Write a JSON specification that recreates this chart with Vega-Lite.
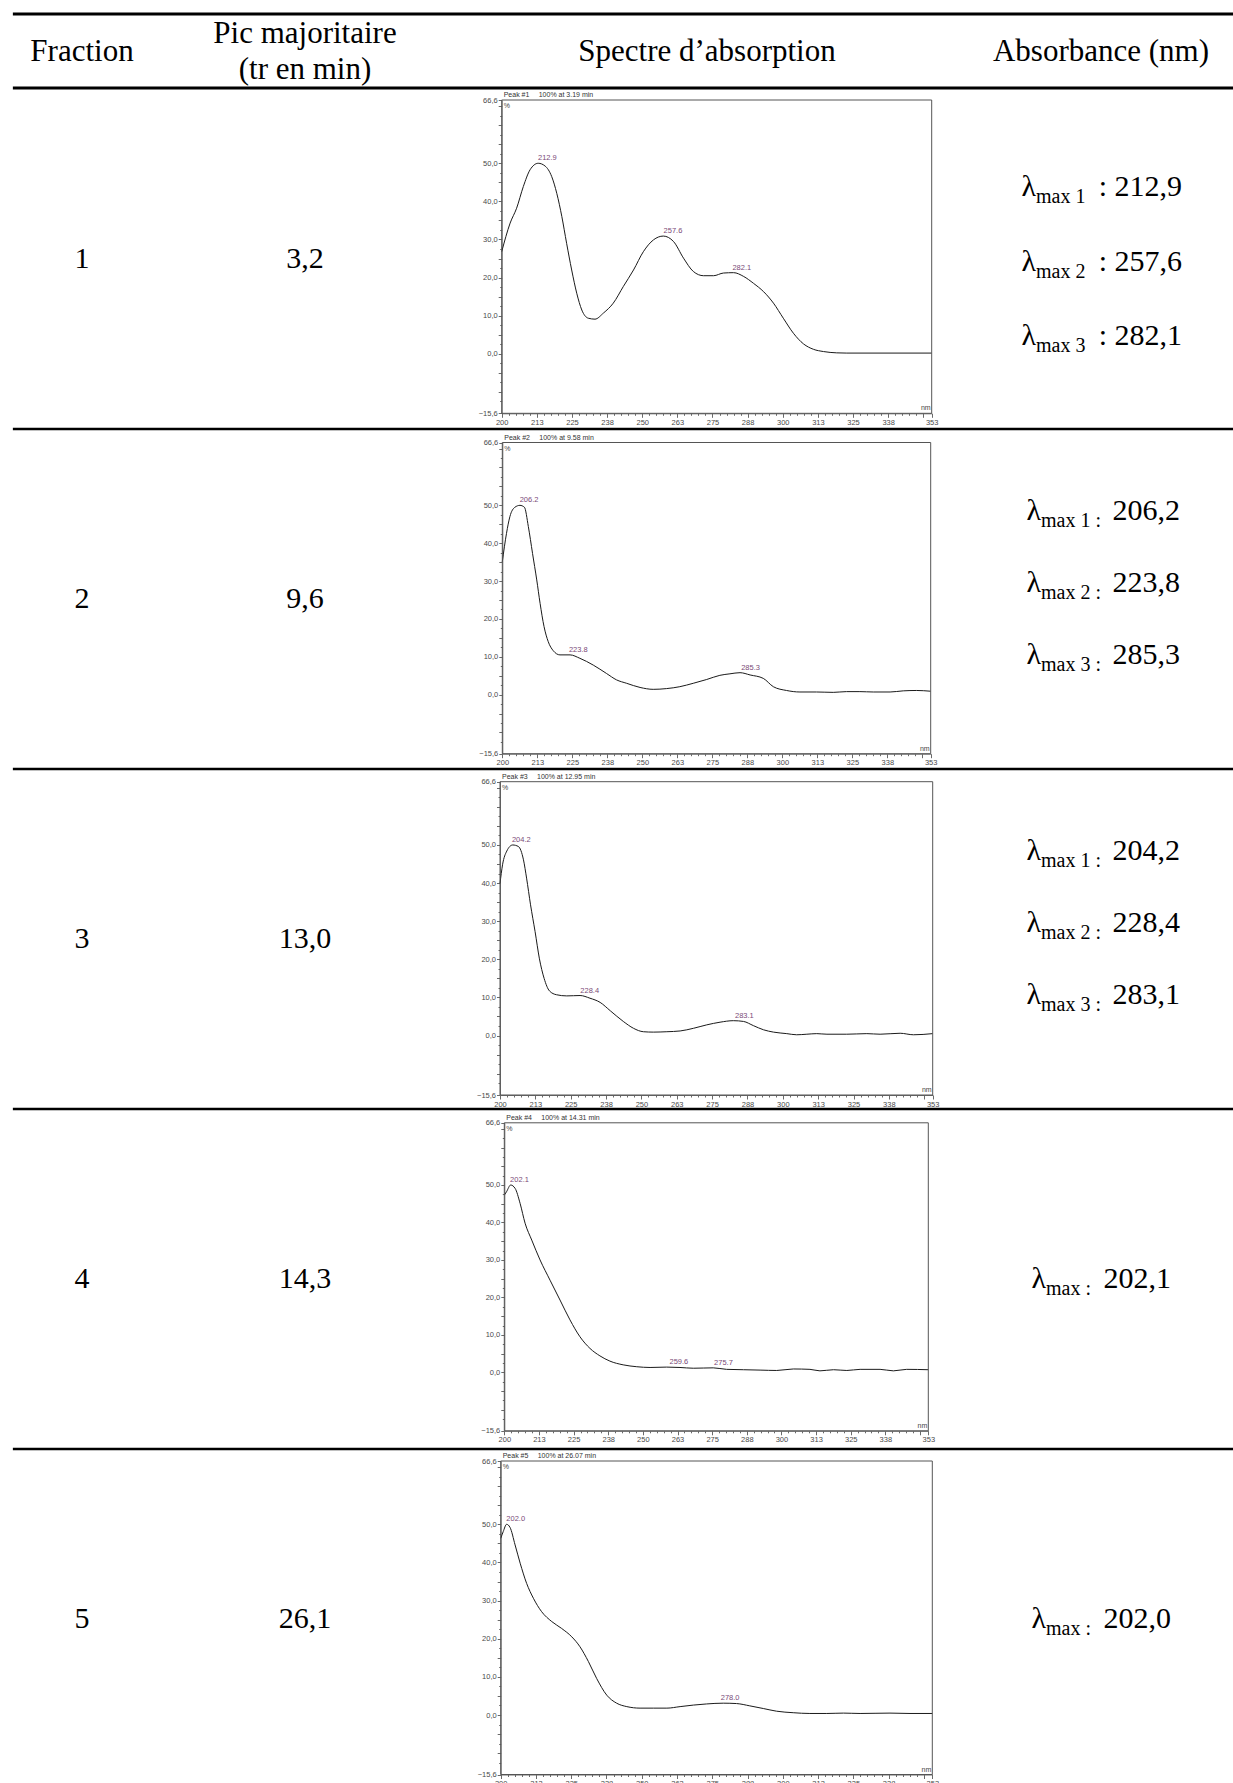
{
  "$schema": "https://vega.github.io/schema/vega-lite/v6.json",
  "width": 1233,
  "height": 1783,
  "autosize": "none",
  "padding": 0,
  "background": "white",
  "config": {
    "view": {"stroke": null},
    "axis": {"domainColor": "#6a6a6a", "tickColor": "#6a6a6a", "labelColor": "#4a4a4a", "labelFont": "Liberation Sans", "labelFontSize": 7.5, "labelPadding": 1, "grid": false, "labelFlush": false, "labelOverlap": false, "domainWidth": 1, "tickWidth": 1, "tickSize": 2.5, "tickCount": 200}
  },
  "datasets": {
    "lines": [{"r": -0.5}, {"r": 0.5}, {"r": 1.5}, {"r": 2.5}, {"r": 3.5}, {"r": 4.5}],
    "header": [
      {"c": 1, "t": "Fraction"},
      {"c": 2, "t": "Pic majoritaire\n(tr en min)"},
      {"c": 3, "t": "Spectre d’absorption"},
      {"c": 4, "t": "Absorbance (nm)"}
    ],
    "rows": [
      {"f": 1, "tr": "3,2", "sub": "max 1\nmax 2\nmax 3", "val": ": 212,9\n: 257,6\n: 282,1"},
      {"f": 2, "tr": "9,6", "sub": "max 1 :\nmax 2 :\nmax 3 :", "val": "206,2\n223,8\n285,3"},
      {"f": 3, "tr": "13,0", "sub": "max 1 :\nmax 2 :\nmax 3 :", "val": "204,2\n228,4\n283,1"},
      {"f": 4, "tr": "14,3", "sub": "max :", "val": "202,1"},
      {"f": 5, "tr": "26,1", "sub": "max :", "val": "202,0"}
    ],
    "panels": [
      {"f": 1, "peak": "Peak #1", "at": "100% at 3.19 min"},
      {"f": 2, "peak": "Peak #2", "at": "100% at 9.58 min"},
      {"f": 3, "peak": "Peak #3", "at": "100% at 12.95 min"},
      {"f": 4, "peak": "Peak #4", "at": "100% at 14.31 min"},
      {"f": 5, "peak": "Peak #5", "at": "100% at 26.07 min"}
    ],
    "peaks": [
      {"f": 1, "nm": 212.9, "v": 50, "t": "212.9"}, {"f": 1, "nm": 257.6, "v": 30.9, "t": "257.6"}, {"f": 1, "nm": 282.1, "v": 21.3, "t": "282.1"},
      {"f": 2, "nm": 206.2, "v": 50, "t": "206.2"}, {"f": 2, "nm": 223.8, "v": 10.5, "t": "223.8"}, {"f": 2, "nm": 285.3, "v": 5.8, "t": "285.3"},
      {"f": 3, "nm": 204.2, "v": 50, "t": "204.2"}, {"f": 3, "nm": 228.4, "v": 10.5, "t": "228.4"}, {"f": 3, "nm": 283.1, "v": 3.9, "t": "283.1"},
      {"f": 4, "nm": 202.1, "v": 50, "t": "202.1"}, {"f": 4, "nm": 259.6, "v": 1.4, "t": "259.6"}, {"f": 4, "nm": 275.7, "v": 1.2, "t": "275.7"},
      {"f": 5, "nm": 202.0, "v": 50, "t": "202.0"}, {"f": 5, "nm": 278.0, "v": 3.1, "t": "278.0"}
    ],
    "curves": [
      {"f":1,"nm":200,"v":26.8},{"f":1,"nm":203,"v":34.3},{"f":1,"nm":205.3,"v":38.2},{"f":1,"nm":207.7,"v":43.9},{"f":1,"nm":210.1,"v":48.3},{"f":1,"nm":213,"v":50.0},{"f":1,"nm":215.4,"v":49.3},{"f":1,"nm":217.8,"v":46.5},{"f":1,"nm":219.6,"v":42.1},{"f":1,"nm":221.4,"v":36.0},{"f":1,"nm":223.1,"v":29.0},{"f":1,"nm":224.9,"v":22.0},{"f":1,"nm":226.7,"v":15.9},{"f":1,"nm":228.5,"v":11.5},{"f":1,"nm":230.8,"v":9.35},{"f":1,"nm":233.2,"v":9.1},{"f":1,"nm":236.2,"v":10.7},{"f":1,"nm":239.7,"v":13.3},{"f":1,"nm":243.3,"v":17.7},{"f":1,"nm":246.9,"v":22.0},{"f":1,"nm":250.4,"v":26.8},{"f":1,"nm":254,"v":29.9},{"f":1,"nm":257.5,"v":30.9},{"f":1,"nm":261.1,"v":29.5},{"f":1,"nm":264.7,"v":25.1},{"f":1,"nm":268.2,"v":21.6},{"f":1,"nm":271.8,"v":20.5},{"f":1,"nm":275.4,"v":20.5},{"f":1,"nm":278.9,"v":21.2},{"f":1,"nm":282.5,"v":21.3},{"f":1,"nm":286.1,"v":20.3},{"f":1,"nm":289.6,"v":18.5},{"f":1,"nm":293.2,"v":16.3},{"f":1,"nm":296.7,"v":13.3},{"f":1,"nm":300.2,"v":9.35},{"f":1,"nm":303.8,"v":5.4},{"f":1,"nm":307.4,"v":2.6},{"f":1,"nm":310.9,"v":1.2},{"f":1,"nm":314.5,"v":0.6},{"f":1,"nm":319.2,"v":0.26},{"f":1,"nm":322.8,"v":0.2},{"f":1,"nm":353,"v":0.2},
      {"f":2,"nm":200,"v":35.1},{"f":2,"nm":201.5,"v":42.6},{"f":2,"nm":202.7,"v":47.0},{"f":2,"nm":204.5,"v":49.5},{"f":2,"nm":206.3,"v":50.0},{"f":2,"nm":207.9,"v":49.5},{"f":2,"nm":209.3,"v":44.4},{"f":2,"nm":210.8,"v":37.3},{"f":2,"nm":212.3,"v":30.3},{"f":2,"nm":213.5,"v":24.1},{"f":2,"nm":214.9,"v":18.0},{"f":2,"nm":216.4,"v":14.0},{"f":2,"nm":218.2,"v":11.6},{"f":2,"nm":220.6,"v":10.5},{"f":2,"nm":224.2,"v":10.5},{"f":2,"nm":227.7,"v":9.6},{"f":2,"nm":232.5,"v":7.8},{"f":2,"nm":237.2,"v":5.6},{"f":2,"nm":240.8,"v":3.9},{"f":2,"nm":244.4,"v":3.0},{"f":2,"nm":249.2,"v":1.9},{"f":2,"nm":253.9,"v":1.4},{"f":2,"nm":258.7,"v":1.6},{"f":2,"nm":263.4,"v":2.1},{"f":2,"nm":268.2,"v":3.0},{"f":2,"nm":273,"v":4.0},{"f":2,"nm":277.7,"v":5.1},{"f":2,"nm":281.3,"v":5.5},{"f":2,"nm":284.9,"v":5.8},{"f":2,"nm":288.5,"v":5.2},{"f":2,"nm":293.2,"v":4.3},{"f":2,"nm":296.8,"v":2.1},{"f":2,"nm":301.5,"v":1.1},{"f":2,"nm":306.3,"v":0.7},{"f":2,"nm":312.2,"v":0.7},{"f":2,"nm":318.2,"v":0.6},{"f":2,"nm":322.9,"v":0.8},{"f":2,"nm":327.7,"v":0.8},{"f":2,"nm":332.5,"v":0.7},{"f":2,"nm":338.5,"v":0.7},{"f":2,"nm":343.2,"v":1.0},{"f":2,"nm":348,"v":1.1},{"f":2,"nm":353,"v":0.9},
      {"f":3,"nm":200,"v":39.9},{"f":3,"nm":200.9,"v":44.8},{"f":3,"nm":202.4,"v":48.4},{"f":3,"nm":204.5,"v":50.0},{"f":3,"nm":206.5,"v":49.6},{"f":3,"nm":208.3,"v":46.1},{"f":3,"nm":209.4,"v":41.3},{"f":3,"nm":210.8,"v":34.3},{"f":3,"nm":212.4,"v":27.3},{"f":3,"nm":213.9,"v":20.3},{"f":3,"nm":215.6,"v":15.0},{"f":3,"nm":217.5,"v":11.7},{"f":3,"nm":220,"v":10.7},{"f":3,"nm":223.6,"v":10.4},{"f":3,"nm":228.3,"v":10.5},{"f":3,"nm":231.8,"v":9.8},{"f":3,"nm":235.4,"v":8.7},{"f":3,"nm":239,"v":6.5},{"f":3,"nm":243.6,"v":3.7},{"f":3,"nm":247.2,"v":1.9},{"f":3,"nm":250.7,"v":1.0},{"f":3,"nm":254.2,"v":0.9},{"f":3,"nm":259,"v":1.0},{"f":3,"nm":263.7,"v":1.2},{"f":3,"nm":268.4,"v":1.9},{"f":3,"nm":273.1,"v":2.8},{"f":3,"nm":277.8,"v":3.5},{"f":3,"nm":282.5,"v":3.9},{"f":3,"nm":286.1,"v":3.7},{"f":3,"nm":289.6,"v":2.6},{"f":3,"nm":293.2,"v":1.5},{"f":3,"nm":296.7,"v":0.9},{"f":3,"nm":301.4,"v":0.5},{"f":3,"nm":304.9,"v":0.2},{"f":3,"nm":308.5,"v":0.35},{"f":3,"nm":312,"v":0.5},{"f":3,"nm":315.6,"v":0.35},{"f":3,"nm":322.6,"v":0.35},{"f":3,"nm":329.7,"v":0.5},{"f":3,"nm":334.4,"v":0.35},{"f":3,"nm":341.5,"v":0.6},{"f":3,"nm":346.2,"v":0.2},{"f":3,"nm":353,"v":0.5},
      {"f":4,"nm":200,"v":47.3},{"f":4,"nm":200.8,"v":48.2},{"f":4,"nm":202.3,"v":50.0},{"f":4,"nm":203.9,"v":49.1},{"f":4,"nm":205.7,"v":45.1},{"f":4,"nm":207.5,"v":39.8},{"f":4,"nm":209.9,"v":35.3},{"f":4,"nm":212.9,"v":30.0},{"f":4,"nm":216.5,"v":24.6},{"f":4,"nm":220.1,"v":19.3},{"f":4,"nm":223.7,"v":14.0},{"f":4,"nm":227.3,"v":9.5},{"f":4,"nm":230.9,"v":6.4},{"f":4,"nm":234.5,"v":4.4},{"f":4,"nm":238.1,"v":3.0},{"f":4,"nm":242.9,"v":2.0},{"f":4,"nm":247.8,"v":1.5},{"f":4,"nm":252.6,"v":1.3},{"f":4,"nm":258.6,"v":1.4},{"f":4,"nm":263.4,"v":1.3},{"f":4,"nm":268.2,"v":1.1},{"f":4,"nm":275.4,"v":1.2},{"f":4,"nm":280.2,"v":0.8},{"f":4,"nm":286.3,"v":0.7},{"f":4,"nm":292.3,"v":0.6},{"f":4,"nm":298.3,"v":0.5},{"f":4,"nm":304.3,"v":0.9},{"f":4,"nm":310.3,"v":0.8},{"f":4,"nm":313.9,"v":0.4},{"f":4,"nm":318.8,"v":0.7},{"f":4,"nm":323.6,"v":0.5},{"f":4,"nm":328.4,"v":0.8},{"f":4,"nm":335.6,"v":0.8},{"f":4,"nm":340.4,"v":0.4},{"f":4,"nm":345.2,"v":0.8},{"f":4,"nm":353,"v":0.7},
      {"f":5,"nm":200,"v":46.3},{"f":5,"nm":200.9,"v":48.1},{"f":5,"nm":202.1,"v":50.0},{"f":5,"nm":203.3,"v":49.2},{"f":5,"nm":205.1,"v":44.6},{"f":5,"nm":206.9,"v":39.8},{"f":5,"nm":209.2,"v":34.5},{"f":5,"nm":211.6,"v":30.6},{"f":5,"nm":214.5,"v":27.1},{"f":5,"nm":218.1,"v":24.5},{"f":5,"nm":221.6,"v":22.7},{"f":5,"nm":225.2,"v":20.5},{"f":5,"nm":228.1,"v":17.9},{"f":5,"nm":231.1,"v":14.0},{"f":5,"nm":234,"v":9.6},{"f":5,"nm":237.6,"v":5.2},{"f":5,"nm":241.1,"v":3.1},{"f":5,"nm":244.7,"v":2.2},{"f":5,"nm":249.4,"v":1.8},{"f":5,"nm":254.1,"v":1.8},{"f":5,"nm":258.9,"v":1.8},{"f":5,"nm":263.6,"v":2.2},{"f":5,"nm":268.3,"v":2.6},{"f":5,"nm":273,"v":2.9},{"f":5,"nm":278.9,"v":3.1},{"f":5,"nm":283.6,"v":3.0},{"f":5,"nm":288.3,"v":2.4},{"f":5,"nm":293.1,"v":1.7},{"f":5,"nm":297.8,"v":1.0},{"f":5,"nm":303.7,"v":0.6},{"f":5,"nm":309.6,"v":0.4},{"f":5,"nm":315.6,"v":0.4},{"f":5,"nm":321.5,"v":0.5},{"f":5,"nm":327.4,"v":0.4},{"f":5,"nm":338,"v":0.5},{"f":5,"nm":345.1,"v":0.4},{"f":5,"nm":353,"v":0.4}
    ]
  },
  "resolve": {"scale": {"x": "independent", "y": "independent"}, "axis": {"x": "independent", "y": "independent"}},
  "layer": [
    {
      "layer": [
        {"data": {"name": "lines"}, "mark": {"type": "rule", "color": "black"},
         "encoding": {
           "y": {"field": "r", "type": "quantitative", "scale": {"domain": [-0.5, 0, 0.5, 1, 5], "range": [14, 52, 88, 259, 1619], "nice": false, "zero": false}, "axis": null},
           "x": {"datum": 0.69, "type": "quantitative", "scale": {"domain": [1, 2, 3, 4], "range": [82, 305, 707, 1101], "nice": false, "zero": false}, "axis": null},
           "x2": {"datum": 4.34},
           "strokeWidth": {"condition": {"test": "datum.r < 1", "value": 3.2}, "value": 2.6}}},
        {"data": {"name": "header"}, "transform": [{"filter": "datum.c != 2"}], "mark": {"type": "text", "font": "Liberation Serif", "fontSize": 31, "align": "center", "baseline": "middle", "color": "black"},
         "encoding": {
           "x": {"field": "c", "type": "quantitative", "scale": {"domain": [1, 2, 3, 4], "range": [82, 305, 707, 1101], "nice": false, "zero": false}, "axis": null},
           "y": {"datum": 0, "type": "quantitative", "scale": {"domain": [-0.5, 0, 0.5, 1, 5], "range": [14, 52, 88, 259, 1619], "nice": false, "zero": false}, "axis": null},
           "text": {"field": "t", "type": "nominal"}}},
        {"data": {"name": "header"}, "transform": [{"filter": "datum.c == 2"}], "mark": {"type": "text", "font": "Liberation Serif", "fontSize": 31, "lineBreak": "\n", "lineHeight": 36, "align": "center", "baseline": "middle", "dy": -18, "color": "black"},
         "encoding": {
           "x": {"field": "c", "type": "quantitative", "scale": {"domain": [1, 2, 3, 4], "range": [82, 305, 707, 1101], "nice": false, "zero": false}, "axis": null},
           "y": {"datum": 0, "type": "quantitative", "scale": {"domain": [-0.5, 0, 0.5, 1, 5], "range": [14, 52, 88, 259, 1619], "nice": false, "zero": false}, "axis": null},
           "text": {"field": "t", "type": "nominal"}}},
        {"data": {"name": "rows"}, "mark": {"type": "text", "font": "Liberation Serif", "fontSize": 30, "align": "center", "baseline": "middle", "color": "black"},
         "encoding": {
           "x": {"datum": 1, "type": "quantitative", "scale": {"domain": [1, 2, 3, 4], "range": [82, 305, 707, 1101], "nice": false, "zero": false}, "axis": null},
           "y": {"field": "f", "type": "quantitative", "scale": {"domain": [-0.5, 0, 0.5, 1, 5], "range": [14, 52, 88, 259, 1619], "nice": false, "zero": false}, "axis": null},
           "text": {"field": "f", "type": "nominal"}}},
        {"data": {"name": "rows"}, "mark": {"type": "text", "font": "Liberation Serif", "fontSize": 30, "align": "center", "baseline": "middle", "color": "black"},
         "encoding": {
           "x": {"datum": 2, "type": "quantitative", "scale": {"domain": [1, 2, 3, 4], "range": [82, 305, 707, 1101], "nice": false, "zero": false}, "axis": null},
           "y": {"field": "f", "type": "quantitative", "scale": {"domain": [-0.5, 0, 0.5, 1, 5], "range": [14, 52, 88, 259, 1619], "nice": false, "zero": false}, "axis": null},
           "text": {"field": "tr", "type": "nominal"}}},
        {"data": {"name": "rows"}, "transform": [{"filter": "datum.f == 1"}],
         "mark": {"type": "text", "text": "λ\nλ\nλ", "font": "Liberation Serif", "fontSize": 30, "lineBreak": "\n", "lineHeight": 74.5, "align": "right", "baseline": "middle", "dx": -65, "dy": -72, "color": "black"},
         "encoding": {
           "x": {"datum": 4, "type": "quantitative", "scale": {"domain": [1, 2, 3, 4], "range": [82, 305, 707, 1101], "nice": false, "zero": false}, "axis": null},
           "y": {"field": "f", "type": "quantitative", "scale": {"domain": [-0.5, 0, 0.5, 1, 5], "range": [14, 52, 88, 259, 1619], "nice": false, "zero": false}, "axis": null}}},
        {"data": {"name": "rows"}, "transform": [{"filter": "datum.f == 1"}],
         "mark": {"type": "text", "font": "Liberation Serif", "fontSize": 20, "lineBreak": "\n", "lineHeight": 74.5, "align": "left", "baseline": "middle", "dx": -65, "dy": -62, "color": "black"},
         "encoding": {
           "x": {"datum": 4, "type": "quantitative", "scale": {"domain": [1, 2, 3, 4], "range": [82, 305, 707, 1101], "nice": false, "zero": false}, "axis": null},
           "y": {"field": "f", "type": "quantitative", "scale": {"domain": [-0.5, 0, 0.5, 1, 5], "range": [14, 52, 88, 259, 1619], "nice": false, "zero": false}, "axis": null},
           "text": {"field": "sub", "type": "nominal"}}},
        {"data": {"name": "rows"}, "transform": [{"filter": "datum.f == 1"}],
         "mark": {"type": "text", "font": "Liberation Serif", "fontSize": 30, "lineBreak": "\n", "lineHeight": 74.5, "align": "right", "baseline": "middle", "dx": 81, "dy": -72, "color": "black"},
         "encoding": {
           "x": {"datum": 4, "type": "quantitative", "scale": {"domain": [1, 2, 3, 4], "range": [82, 305, 707, 1101], "nice": false, "zero": false}, "axis": null},
           "y": {"field": "f", "type": "quantitative", "scale": {"domain": [-0.5, 0, 0.5, 1, 5], "range": [14, 52, 88, 259, 1619], "nice": false, "zero": false}, "axis": null},
           "text": {"field": "val", "type": "nominal"}}},
        {"data": {"name": "rows"}, "transform": [{"filter": "datum.f == 2 || datum.f == 3"}],
         "mark": {"type": "text", "text": "λ\nλ\nλ", "font": "Liberation Serif", "fontSize": 30, "lineBreak": "\n", "lineHeight": 72, "align": "right", "baseline": "middle", "dx": -60, "dy": -88, "color": "black"},
         "encoding": {
           "x": {"datum": 4, "type": "quantitative", "scale": {"domain": [1, 2, 3, 4], "range": [82, 305, 707, 1101], "nice": false, "zero": false}, "axis": null},
           "y": {"field": "f", "type": "quantitative", "scale": {"domain": [-0.5, 0, 0.5, 1, 5], "range": [14, 52, 88, 259, 1619], "nice": false, "zero": false}, "axis": null}}},
        {"data": {"name": "rows"}, "transform": [{"filter": "datum.f == 2 || datum.f == 3"}],
         "mark": {"type": "text", "font": "Liberation Serif", "fontSize": 20, "lineBreak": "\n", "lineHeight": 72, "align": "left", "baseline": "middle", "dx": -60, "dy": -78, "color": "black"},
         "encoding": {
           "x": {"datum": 4, "type": "quantitative", "scale": {"domain": [1, 2, 3, 4], "range": [82, 305, 707, 1101], "nice": false, "zero": false}, "axis": null},
           "y": {"field": "f", "type": "quantitative", "scale": {"domain": [-0.5, 0, 0.5, 1, 5], "range": [14, 52, 88, 259, 1619], "nice": false, "zero": false}, "axis": null},
           "text": {"field": "sub", "type": "nominal"}}},
        {"data": {"name": "rows"}, "transform": [{"filter": "datum.f == 2 || datum.f == 3"}],
         "mark": {"type": "text", "font": "Liberation Serif", "fontSize": 30, "lineBreak": "\n", "lineHeight": 72, "align": "right", "baseline": "middle", "dx": 79, "dy": -88, "color": "black"},
         "encoding": {
           "x": {"datum": 4, "type": "quantitative", "scale": {"domain": [1, 2, 3, 4], "range": [82, 305, 707, 1101], "nice": false, "zero": false}, "axis": null},
           "y": {"field": "f", "type": "quantitative", "scale": {"domain": [-0.5, 0, 0.5, 1, 5], "range": [14, 52, 88, 259, 1619], "nice": false, "zero": false}, "axis": null},
           "text": {"field": "val", "type": "nominal"}}},
        {"data": {"name": "rows"}, "transform": [{"filter": "datum.f >= 4"}],
         "mark": {"type": "text", "text": "λ", "font": "Liberation Serif", "fontSize": 30, "align": "right", "baseline": "middle", "dx": -55, "dy": 0, "color": "black"},
         "encoding": {
           "x": {"datum": 4, "type": "quantitative", "scale": {"domain": [1, 2, 3, 4], "range": [82, 305, 707, 1101], "nice": false, "zero": false}, "axis": null},
           "y": {"field": "f", "type": "quantitative", "scale": {"domain": [-0.5, 0, 0.5, 1, 5], "range": [14, 52, 88, 259, 1619], "nice": false, "zero": false}, "axis": null}}},
        {"data": {"name": "rows"}, "transform": [{"filter": "datum.f >= 4"}],
         "mark": {"type": "text", "font": "Liberation Serif", "fontSize": 20, "align": "left", "baseline": "middle", "dx": -55, "dy": 10, "color": "black"},
         "encoding": {
           "x": {"datum": 4, "type": "quantitative", "scale": {"domain": [1, 2, 3, 4], "range": [82, 305, 707, 1101], "nice": false, "zero": false}, "axis": null},
           "y": {"field": "f", "type": "quantitative", "scale": {"domain": [-0.5, 0, 0.5, 1, 5], "range": [14, 52, 88, 259, 1619], "nice": false, "zero": false}, "axis": null},
           "text": {"field": "sub", "type": "nominal"}}},
        {"data": {"name": "rows"}, "transform": [{"filter": "datum.f >= 4"}],
         "mark": {"type": "text", "font": "Liberation Serif", "fontSize": 30, "align": "right", "baseline": "middle", "dx": 70, "dy": 0, "color": "black"},
         "encoding": {
           "x": {"datum": 4, "type": "quantitative", "scale": {"domain": [1, 2, 3, 4], "range": [82, 305, 707, 1101], "nice": false, "zero": false}, "axis": null},
           "y": {"field": "f", "type": "quantitative", "scale": {"domain": [-0.5, 0, 0.5, 1, 5], "range": [14, 52, 88, 259, 1619], "nice": false, "zero": false}, "axis": null},
           "text": {"field": "val", "type": "nominal"}}}
      ]
    },
    {
      "layer": [
        {"data": {"name": "curves"}, "transform": [{"filter": "datum.f == 1"}], "mark": {"type": "line", "color": "#1a1a1a", "strokeWidth": 1, "interpolate": "monotone"},
         "encoding": {
           "x": {"field": "nm", "type": "quantitative", "scale": {"domain": [200, 353], "range": [501.7, 931.7], "nice": false, "zero": false},
                 "axis": {"orient": "bottom", "offset": -1369.7, "title": null, "labelOverlap": false, "tickCount": 200, "values": [200,202.5,205,207.5,210,212.5,215,217.5,220,222.5,225,227.5,230,232.5,235,237.5,240,242.5,245,247.5,250,252.5,255,257.5,260,262.5,265,267.5,270,272.5,275,277.5,280,282.5,285,287.5,290,292.5,295,297.5,300,302.5,305,307.5,310,312.5,315,317.5,320,322.5,325,327.5,330,332.5,335,337.5,340,342.5,345,347.5,350,353],
                          "labelExpr": "(datum.value == 353 || ((datum.value - 200) % 12.5 == 0 && datum.value < 345)) ? format(round(datum.value), 'd') : ''",
                          "tickSize": {"condition": {"test": "datum.value == 353 || (datum.value - 200) % 12.5 == 0", "value": 4}, "value": 2}}},
           "y": {"field": "v", "type": "quantitative", "scale": {"domain": [-15.6, 66.6], "range": [413.3, 100], "nice": false, "zero": false},
                 "axis": {"orient": "left", "offset": -501.7, "title": null, "labelOverlap": false, "tickCount": 200, "values": [-15.6,-12.5,-10,-7.5,-5,-2.5,0,2.5,5,7.5,10,12.5,15,17.5,20,22.5,25,27.5,30,32.5,35,37.5,40,42.5,45,47.5,50,52.5,55,57.5,60,62.5,65,66.6],
                          "labelExpr": "indexof([-15.6, 0, 10, 20, 30, 40, 50, 66.6], datum.value) >= 0 ? replace(format(datum.value, '.1f'), '.', ',') : ''",
                          "tickSize": {"condition": {"test": "datum.value % 5 == 0 || datum.value == 66.6 || datum.value == -15.6", "value": 3.5}, "value": 2}}}}},
        {"data": {"values": [{}]}, "mark": {"type": "rect", "filled": false, "color": "#555555", "strokeWidth": 1},
         "encoding": {"x": {"datum": 200, "type": "quantitative", "scale": {"domain": [200, 353], "range": [501.7, 931.7], "nice": false, "zero": false}}, "x2": {"datum": 353},
                      "y": {"datum": -15.6, "type": "quantitative", "scale": {"domain": [-15.6, 66.6], "range": [413.3, 100], "nice": false, "zero": false}}, "y2": {"datum": 66.6}}},
        {"data": {"name": "peaks"}, "transform": [{"filter": "datum.f == 1"}], "mark": {"type": "text", "align": "left", "baseline": "bottom", "dy": -1, "font": "Liberation Sans", "fontSize": 7.5, "color": "#7a4a78"},
         "encoding": {"x": {"field": "nm", "type": "quantitative", "scale": {"domain": [200, 353], "range": [501.7, 931.7], "nice": false, "zero": false}},
                      "y": {"field": "v", "type": "quantitative", "scale": {"domain": [-15.6, 66.6], "range": [413.3, 100], "nice": false, "zero": false}},
                      "text": {"field": "t", "type": "nominal"}}},
        {"data": {"name": "panels"}, "transform": [{"filter": "datum.f == 1"}], "mark": {"type": "text", "align": "left", "baseline": "bottom", "dx": 2, "dy": -2, "font": "Liberation Sans", "fontSize": 7, "color": "#333333"},
         "encoding": {"x": {"datum": 200, "type": "quantitative", "scale": {"domain": [200, 353], "range": [501.7, 931.7], "nice": false, "zero": false}},
                      "y": {"datum": 66.6, "type": "quantitative", "scale": {"domain": [-15.6, 66.6], "range": [413.3, 100], "nice": false, "zero": false}},
                      "text": {"field": "peak", "type": "nominal"}}},
        {"data": {"name": "panels"}, "transform": [{"filter": "datum.f == 1"}], "mark": {"type": "text", "align": "left", "baseline": "bottom", "dx": 37, "dy": -2, "font": "Liberation Sans", "fontSize": 7, "color": "#333333"},
         "encoding": {"x": {"datum": 200, "type": "quantitative", "scale": {"domain": [200, 353], "range": [501.7, 931.7], "nice": false, "zero": false}},
                      "y": {"datum": 66.6, "type": "quantitative", "scale": {"domain": [-15.6, 66.6], "range": [413.3, 100], "nice": false, "zero": false}},
                      "text": {"field": "at", "type": "nominal"}}},
        {"data": {"values": [{}]}, "mark": {"type": "text", "text": "%", "align": "left", "baseline": "top", "dx": 2, "dy": 2, "font": "Liberation Sans", "fontSize": 7, "color": "#444444"},
         "encoding": {"x": {"datum": 200, "type": "quantitative", "scale": {"domain": [200, 353], "range": [501.7, 931.7], "nice": false, "zero": false}},
                      "y": {"datum": 66.6, "type": "quantitative", "scale": {"domain": [-15.6, 66.6], "range": [413.3, 100], "nice": false, "zero": false}}}},
        {"data": {"values": [{}]}, "mark": {"type": "text", "text": "nm", "align": "right", "baseline": "bottom", "dx": -1, "dy": -2, "font": "Liberation Sans", "fontSize": 7, "color": "#444444"},
         "encoding": {"x": {"datum": 353, "type": "quantitative", "scale": {"domain": [200, 353], "range": [501.7, 931.7], "nice": false, "zero": false}},
                      "y": {"datum": -15.6, "type": "quantitative", "scale": {"domain": [-15.6, 66.6], "range": [413.3, 100], "nice": false, "zero": false}}}}
      ]
    },
    {
      "layer": [
        {"data": {"name": "curves"}, "transform": [{"filter": "datum.f == 2"}], "mark": {"type": "line", "color": "#1a1a1a", "strokeWidth": 1, "interpolate": "monotone"},
         "encoding": {
           "x": {"field": "nm", "type": "quantitative", "scale": {"domain": [200, 353], "range": [502.3, 930.7], "nice": false, "zero": false},
                 "axis": {"orient": "bottom", "offset": -1029.3, "title": null, "labelOverlap": false, "tickCount": 200, "values": [200,202.5,205,207.5,210,212.5,215,217.5,220,222.5,225,227.5,230,232.5,235,237.5,240,242.5,245,247.5,250,252.5,255,257.5,260,262.5,265,267.5,270,272.5,275,277.5,280,282.5,285,287.5,290,292.5,295,297.5,300,302.5,305,307.5,310,312.5,315,317.5,320,322.5,325,327.5,330,332.5,335,337.5,340,342.5,345,347.5,350,353],
                          "labelExpr": "(datum.value == 353 || ((datum.value - 200) % 12.5 == 0 && datum.value < 345)) ? format(round(datum.value), 'd') : ''",
                          "tickSize": {"condition": {"test": "datum.value == 353 || (datum.value - 200) % 12.5 == 0", "value": 4}, "value": 2}}},
           "y": {"field": "v", "type": "quantitative", "scale": {"domain": [-15.6, 66.6], "range": [753.7, 442.5], "nice": false, "zero": false},
                 "axis": {"orient": "left", "offset": -502.3, "title": null, "labelOverlap": false, "tickCount": 200, "values": [-15.6,-12.5,-10,-7.5,-5,-2.5,0,2.5,5,7.5,10,12.5,15,17.5,20,22.5,25,27.5,30,32.5,35,37.5,40,42.5,45,47.5,50,52.5,55,57.5,60,62.5,65,66.6],
                          "labelExpr": "indexof([-15.6, 0, 10, 20, 30, 40, 50, 66.6], datum.value) >= 0 ? replace(format(datum.value, '.1f'), '.', ',') : ''",
                          "tickSize": {"condition": {"test": "datum.value % 5 == 0 || datum.value == 66.6 || datum.value == -15.6", "value": 3.5}, "value": 2}}}}},
        {"data": {"values": [{}]}, "mark": {"type": "rect", "filled": false, "color": "#555555", "strokeWidth": 1},
         "encoding": {"x": {"datum": 200, "type": "quantitative", "scale": {"domain": [200, 353], "range": [502.3, 930.7], "nice": false, "zero": false}}, "x2": {"datum": 353},
                      "y": {"datum": -15.6, "type": "quantitative", "scale": {"domain": [-15.6, 66.6], "range": [753.7, 442.5], "nice": false, "zero": false}}, "y2": {"datum": 66.6}}},
        {"data": {"name": "peaks"}, "transform": [{"filter": "datum.f == 2"}], "mark": {"type": "text", "align": "left", "baseline": "bottom", "dy": -1, "font": "Liberation Sans", "fontSize": 7.5, "color": "#7a4a78"},
         "encoding": {"x": {"field": "nm", "type": "quantitative", "scale": {"domain": [200, 353], "range": [502.3, 930.7], "nice": false, "zero": false}},
                      "y": {"field": "v", "type": "quantitative", "scale": {"domain": [-15.6, 66.6], "range": [753.7, 442.5], "nice": false, "zero": false}},
                      "text": {"field": "t", "type": "nominal"}}},
        {"data": {"name": "panels"}, "transform": [{"filter": "datum.f == 2"}], "mark": {"type": "text", "align": "left", "baseline": "bottom", "dx": 2, "dy": -2, "font": "Liberation Sans", "fontSize": 7, "color": "#333333"},
         "encoding": {"x": {"datum": 200, "type": "quantitative", "scale": {"domain": [200, 353], "range": [502.3, 930.7], "nice": false, "zero": false}},
                      "y": {"datum": 66.6, "type": "quantitative", "scale": {"domain": [-15.6, 66.6], "range": [753.7, 442.5], "nice": false, "zero": false}},
                      "text": {"field": "peak", "type": "nominal"}}},
        {"data": {"name": "panels"}, "transform": [{"filter": "datum.f == 2"}], "mark": {"type": "text", "align": "left", "baseline": "bottom", "dx": 37, "dy": -2, "font": "Liberation Sans", "fontSize": 7, "color": "#333333"},
         "encoding": {"x": {"datum": 200, "type": "quantitative", "scale": {"domain": [200, 353], "range": [502.3, 930.7], "nice": false, "zero": false}},
                      "y": {"datum": 66.6, "type": "quantitative", "scale": {"domain": [-15.6, 66.6], "range": [753.7, 442.5], "nice": false, "zero": false}},
                      "text": {"field": "at", "type": "nominal"}}},
        {"data": {"values": [{}]}, "mark": {"type": "text", "text": "%", "align": "left", "baseline": "top", "dx": 2, "dy": 2, "font": "Liberation Sans", "fontSize": 7, "color": "#444444"},
         "encoding": {"x": {"datum": 200, "type": "quantitative", "scale": {"domain": [200, 353], "range": [502.3, 930.7], "nice": false, "zero": false}},
                      "y": {"datum": 66.6, "type": "quantitative", "scale": {"domain": [-15.6, 66.6], "range": [753.7, 442.5], "nice": false, "zero": false}}}},
        {"data": {"values": [{}]}, "mark": {"type": "text", "text": "nm", "align": "right", "baseline": "bottom", "dx": -1, "dy": -2, "font": "Liberation Sans", "fontSize": 7, "color": "#444444"},
         "encoding": {"x": {"datum": 353, "type": "quantitative", "scale": {"domain": [200, 353], "range": [502.3, 930.7], "nice": false, "zero": false}},
                      "y": {"datum": -15.6, "type": "quantitative", "scale": {"domain": [-15.6, 66.6], "range": [753.7, 442.5], "nice": false, "zero": false}}}}
      ]
    },
    {
      "layer": [
        {"data": {"name": "curves"}, "transform": [{"filter": "datum.f == 3"}], "mark": {"type": "line", "color": "#1a1a1a", "strokeWidth": 1, "interpolate": "monotone"},
         "encoding": {
           "x": {"field": "nm", "type": "quantitative", "scale": {"domain": [200, 353], "range": [500, 932.7], "nice": false, "zero": false},
                 "axis": {"orient": "bottom", "offset": -688, "title": null, "labelOverlap": false, "tickCount": 200, "values": [200,202.5,205,207.5,210,212.5,215,217.5,220,222.5,225,227.5,230,232.5,235,237.5,240,242.5,245,247.5,250,252.5,255,257.5,260,262.5,265,267.5,270,272.5,275,277.5,280,282.5,285,287.5,290,292.5,295,297.5,300,302.5,305,307.5,310,312.5,315,317.5,320,322.5,325,327.5,330,332.5,335,337.5,340,342.5,345,347.5,350,353],
                          "labelExpr": "(datum.value == 353 || ((datum.value - 200) % 12.5 == 0 && datum.value < 345)) ? format(round(datum.value), 'd') : ''",
                          "tickSize": {"condition": {"test": "datum.value == 353 || (datum.value - 200) % 12.5 == 0", "value": 4}, "value": 2}}},
           "y": {"field": "v", "type": "quantitative", "scale": {"domain": [-15.6, 66.6], "range": [1095, 781.7], "nice": false, "zero": false},
                 "axis": {"orient": "left", "offset": -500, "title": null, "labelOverlap": false, "tickCount": 200, "values": [-15.6,-12.5,-10,-7.5,-5,-2.5,0,2.5,5,7.5,10,12.5,15,17.5,20,22.5,25,27.5,30,32.5,35,37.5,40,42.5,45,47.5,50,52.5,55,57.5,60,62.5,65,66.6],
                          "labelExpr": "indexof([-15.6, 0, 10, 20, 30, 40, 50, 66.6], datum.value) >= 0 ? replace(format(datum.value, '.1f'), '.', ',') : ''",
                          "tickSize": {"condition": {"test": "datum.value % 5 == 0 || datum.value == 66.6 || datum.value == -15.6", "value": 3.5}, "value": 2}}}}},
        {"data": {"values": [{}]}, "mark": {"type": "rect", "filled": false, "color": "#555555", "strokeWidth": 1},
         "encoding": {"x": {"datum": 200, "type": "quantitative", "scale": {"domain": [200, 353], "range": [500, 932.7], "nice": false, "zero": false}}, "x2": {"datum": 353},
                      "y": {"datum": -15.6, "type": "quantitative", "scale": {"domain": [-15.6, 66.6], "range": [1095, 781.7], "nice": false, "zero": false}}, "y2": {"datum": 66.6}}},
        {"data": {"name": "peaks"}, "transform": [{"filter": "datum.f == 3"}], "mark": {"type": "text", "align": "left", "baseline": "bottom", "dy": -1, "font": "Liberation Sans", "fontSize": 7.5, "color": "#7a4a78"},
         "encoding": {"x": {"field": "nm", "type": "quantitative", "scale": {"domain": [200, 353], "range": [500, 932.7], "nice": false, "zero": false}},
                      "y": {"field": "v", "type": "quantitative", "scale": {"domain": [-15.6, 66.6], "range": [1095, 781.7], "nice": false, "zero": false}},
                      "text": {"field": "t", "type": "nominal"}}},
        {"data": {"name": "panels"}, "transform": [{"filter": "datum.f == 3"}], "mark": {"type": "text", "align": "left", "baseline": "bottom", "dx": 2, "dy": -2, "font": "Liberation Sans", "fontSize": 7, "color": "#333333"},
         "encoding": {"x": {"datum": 200, "type": "quantitative", "scale": {"domain": [200, 353], "range": [500, 932.7], "nice": false, "zero": false}},
                      "y": {"datum": 66.6, "type": "quantitative", "scale": {"domain": [-15.6, 66.6], "range": [1095, 781.7], "nice": false, "zero": false}},
                      "text": {"field": "peak", "type": "nominal"}}},
        {"data": {"name": "panels"}, "transform": [{"filter": "datum.f == 3"}], "mark": {"type": "text", "align": "left", "baseline": "bottom", "dx": 37, "dy": -2, "font": "Liberation Sans", "fontSize": 7, "color": "#333333"},
         "encoding": {"x": {"datum": 200, "type": "quantitative", "scale": {"domain": [200, 353], "range": [500, 932.7], "nice": false, "zero": false}},
                      "y": {"datum": 66.6, "type": "quantitative", "scale": {"domain": [-15.6, 66.6], "range": [1095, 781.7], "nice": false, "zero": false}},
                      "text": {"field": "at", "type": "nominal"}}},
        {"data": {"values": [{}]}, "mark": {"type": "text", "text": "%", "align": "left", "baseline": "top", "dx": 2, "dy": 2, "font": "Liberation Sans", "fontSize": 7, "color": "#444444"},
         "encoding": {"x": {"datum": 200, "type": "quantitative", "scale": {"domain": [200, 353], "range": [500, 932.7], "nice": false, "zero": false}},
                      "y": {"datum": 66.6, "type": "quantitative", "scale": {"domain": [-15.6, 66.6], "range": [1095, 781.7], "nice": false, "zero": false}}}},
        {"data": {"values": [{}]}, "mark": {"type": "text", "text": "nm", "align": "right", "baseline": "bottom", "dx": -1, "dy": -2, "font": "Liberation Sans", "fontSize": 7, "color": "#444444"},
         "encoding": {"x": {"datum": 353, "type": "quantitative", "scale": {"domain": [200, 353], "range": [500, 932.7], "nice": false, "zero": false}},
                      "y": {"datum": -15.6, "type": "quantitative", "scale": {"domain": [-15.6, 66.6], "range": [1095, 781.7], "nice": false, "zero": false}}}}
      ]
    },
    {
      "layer": [
        {"data": {"name": "curves"}, "transform": [{"filter": "datum.f == 4"}], "mark": {"type": "line", "color": "#1a1a1a", "strokeWidth": 1, "interpolate": "monotone"},
         "encoding": {
           "x": {"field": "nm", "type": "quantitative", "scale": {"domain": [200, 353], "range": [504.3, 928.3], "nice": false, "zero": false},
                 "axis": {"orient": "bottom", "offset": -352.2, "title": null, "labelOverlap": false, "tickCount": 200, "values": [200,202.5,205,207.5,210,212.5,215,217.5,220,222.5,225,227.5,230,232.5,235,237.5,240,242.5,245,247.5,250,252.5,255,257.5,260,262.5,265,267.5,270,272.5,275,277.5,280,282.5,285,287.5,290,292.5,295,297.5,300,302.5,305,307.5,310,312.5,315,317.5,320,322.5,325,327.5,330,332.5,335,337.5,340,342.5,345,347.5,350,353],
                          "labelExpr": "(datum.value == 353 || ((datum.value - 200) % 12.5 == 0 && datum.value < 345)) ? format(round(datum.value), 'd') : ''",
                          "tickSize": {"condition": {"test": "datum.value == 353 || (datum.value - 200) % 12.5 == 0", "value": 4}, "value": 2}}},
           "y": {"field": "v", "type": "quantitative", "scale": {"domain": [-15.6, 66.6], "range": [1430.8, 1122.8], "nice": false, "zero": false},
                 "axis": {"orient": "left", "offset": -504.3, "title": null, "labelOverlap": false, "tickCount": 200, "values": [-15.6,-12.5,-10,-7.5,-5,-2.5,0,2.5,5,7.5,10,12.5,15,17.5,20,22.5,25,27.5,30,32.5,35,37.5,40,42.5,45,47.5,50,52.5,55,57.5,60,62.5,65,66.6],
                          "labelExpr": "indexof([-15.6, 0, 10, 20, 30, 40, 50, 66.6], datum.value) >= 0 ? replace(format(datum.value, '.1f'), '.', ',') : ''",
                          "tickSize": {"condition": {"test": "datum.value % 5 == 0 || datum.value == 66.6 || datum.value == -15.6", "value": 3.5}, "value": 2}}}}},
        {"data": {"values": [{}]}, "mark": {"type": "rect", "filled": false, "color": "#555555", "strokeWidth": 1},
         "encoding": {"x": {"datum": 200, "type": "quantitative", "scale": {"domain": [200, 353], "range": [504.3, 928.3], "nice": false, "zero": false}}, "x2": {"datum": 353},
                      "y": {"datum": -15.6, "type": "quantitative", "scale": {"domain": [-15.6, 66.6], "range": [1430.8, 1122.8], "nice": false, "zero": false}}, "y2": {"datum": 66.6}}},
        {"data": {"name": "peaks"}, "transform": [{"filter": "datum.f == 4"}], "mark": {"type": "text", "align": "left", "baseline": "bottom", "dy": -1, "font": "Liberation Sans", "fontSize": 7.5, "color": "#7a4a78"},
         "encoding": {"x": {"field": "nm", "type": "quantitative", "scale": {"domain": [200, 353], "range": [504.3, 928.3], "nice": false, "zero": false}},
                      "y": {"field": "v", "type": "quantitative", "scale": {"domain": [-15.6, 66.6], "range": [1430.8, 1122.8], "nice": false, "zero": false}},
                      "text": {"field": "t", "type": "nominal"}}},
        {"data": {"name": "panels"}, "transform": [{"filter": "datum.f == 4"}], "mark": {"type": "text", "align": "left", "baseline": "bottom", "dx": 2, "dy": -2, "font": "Liberation Sans", "fontSize": 7, "color": "#333333"},
         "encoding": {"x": {"datum": 200, "type": "quantitative", "scale": {"domain": [200, 353], "range": [504.3, 928.3], "nice": false, "zero": false}},
                      "y": {"datum": 66.6, "type": "quantitative", "scale": {"domain": [-15.6, 66.6], "range": [1430.8, 1122.8], "nice": false, "zero": false}},
                      "text": {"field": "peak", "type": "nominal"}}},
        {"data": {"name": "panels"}, "transform": [{"filter": "datum.f == 4"}], "mark": {"type": "text", "align": "left", "baseline": "bottom", "dx": 37, "dy": -2, "font": "Liberation Sans", "fontSize": 7, "color": "#333333"},
         "encoding": {"x": {"datum": 200, "type": "quantitative", "scale": {"domain": [200, 353], "range": [504.3, 928.3], "nice": false, "zero": false}},
                      "y": {"datum": 66.6, "type": "quantitative", "scale": {"domain": [-15.6, 66.6], "range": [1430.8, 1122.8], "nice": false, "zero": false}},
                      "text": {"field": "at", "type": "nominal"}}},
        {"data": {"values": [{}]}, "mark": {"type": "text", "text": "%", "align": "left", "baseline": "top", "dx": 2, "dy": 2, "font": "Liberation Sans", "fontSize": 7, "color": "#444444"},
         "encoding": {"x": {"datum": 200, "type": "quantitative", "scale": {"domain": [200, 353], "range": [504.3, 928.3], "nice": false, "zero": false}},
                      "y": {"datum": 66.6, "type": "quantitative", "scale": {"domain": [-15.6, 66.6], "range": [1430.8, 1122.8], "nice": false, "zero": false}}}},
        {"data": {"values": [{}]}, "mark": {"type": "text", "text": "nm", "align": "right", "baseline": "bottom", "dx": -1, "dy": -2, "font": "Liberation Sans", "fontSize": 7, "color": "#444444"},
         "encoding": {"x": {"datum": 353, "type": "quantitative", "scale": {"domain": [200, 353], "range": [504.3, 928.3], "nice": false, "zero": false}},
                      "y": {"datum": -15.6, "type": "quantitative", "scale": {"domain": [-15.6, 66.6], "range": [1430.8, 1122.8], "nice": false, "zero": false}}}}
      ]
    },
    {
      "layer": [
        {"data": {"name": "curves"}, "transform": [{"filter": "datum.f == 5"}], "mark": {"type": "line", "color": "#1a1a1a", "strokeWidth": 1, "interpolate": "monotone"},
         "encoding": {
           "x": {"field": "nm", "type": "quantitative", "scale": {"domain": [200, 353], "range": [500.7, 932.3], "nice": false, "zero": false},
                 "axis": {"orient": "bottom", "offset": -8.5, "title": null, "labelOverlap": false, "tickCount": 200, "values": [200,202.5,205,207.5,210,212.5,215,217.5,220,222.5,225,227.5,230,232.5,235,237.5,240,242.5,245,247.5,250,252.5,255,257.5,260,262.5,265,267.5,270,272.5,275,277.5,280,282.5,285,287.5,290,292.5,295,297.5,300,302.5,305,307.5,310,312.5,315,317.5,320,322.5,325,327.5,330,332.5,335,337.5,340,342.5,345,347.5,350,353],
                          "labelExpr": "(datum.value == 353 || ((datum.value - 200) % 12.5 == 0 && datum.value < 345)) ? format(round(datum.value), 'd') : ''",
                          "tickSize": {"condition": {"test": "datum.value == 353 || (datum.value - 200) % 12.5 == 0", "value": 4}, "value": 2}}},
           "y": {"field": "v", "type": "quantitative", "scale": {"domain": [-15.6, 66.6], "range": [1774.5, 1461], "nice": false, "zero": false},
                 "axis": {"orient": "left", "offset": -500.7, "title": null, "labelOverlap": false, "tickCount": 200, "values": [-15.6,-12.5,-10,-7.5,-5,-2.5,0,2.5,5,7.5,10,12.5,15,17.5,20,22.5,25,27.5,30,32.5,35,37.5,40,42.5,45,47.5,50,52.5,55,57.5,60,62.5,65,66.6],
                          "labelExpr": "indexof([-15.6, 0, 10, 20, 30, 40, 50, 66.6], datum.value) >= 0 ? replace(format(datum.value, '.1f'), '.', ',') : ''",
                          "tickSize": {"condition": {"test": "datum.value % 5 == 0 || datum.value == 66.6 || datum.value == -15.6", "value": 3.5}, "value": 2}}}}},
        {"data": {"values": [{}]}, "mark": {"type": "rect", "filled": false, "color": "#555555", "strokeWidth": 1},
         "encoding": {"x": {"datum": 200, "type": "quantitative", "scale": {"domain": [200, 353], "range": [500.7, 932.3], "nice": false, "zero": false}}, "x2": {"datum": 353},
                      "y": {"datum": -15.6, "type": "quantitative", "scale": {"domain": [-15.6, 66.6], "range": [1774.5, 1461], "nice": false, "zero": false}}, "y2": {"datum": 66.6}}},
        {"data": {"name": "peaks"}, "transform": [{"filter": "datum.f == 5"}], "mark": {"type": "text", "align": "left", "baseline": "bottom", "dy": -1, "font": "Liberation Sans", "fontSize": 7.5, "color": "#7a4a78"},
         "encoding": {"x": {"field": "nm", "type": "quantitative", "scale": {"domain": [200, 353], "range": [500.7, 932.3], "nice": false, "zero": false}},
                      "y": {"field": "v", "type": "quantitative", "scale": {"domain": [-15.6, 66.6], "range": [1774.5, 1461], "nice": false, "zero": false}},
                      "text": {"field": "t", "type": "nominal"}}},
        {"data": {"name": "panels"}, "transform": [{"filter": "datum.f == 5"}], "mark": {"type": "text", "align": "left", "baseline": "bottom", "dx": 2, "dy": -2, "font": "Liberation Sans", "fontSize": 7, "color": "#333333"},
         "encoding": {"x": {"datum": 200, "type": "quantitative", "scale": {"domain": [200, 353], "range": [500.7, 932.3], "nice": false, "zero": false}},
                      "y": {"datum": 66.6, "type": "quantitative", "scale": {"domain": [-15.6, 66.6], "range": [1774.5, 1461], "nice": false, "zero": false}},
                      "text": {"field": "peak", "type": "nominal"}}},
        {"data": {"name": "panels"}, "transform": [{"filter": "datum.f == 5"}], "mark": {"type": "text", "align": "left", "baseline": "bottom", "dx": 37, "dy": -2, "font": "Liberation Sans", "fontSize": 7, "color": "#333333"},
         "encoding": {"x": {"datum": 200, "type": "quantitative", "scale": {"domain": [200, 353], "range": [500.7, 932.3], "nice": false, "zero": false}},
                      "y": {"datum": 66.6, "type": "quantitative", "scale": {"domain": [-15.6, 66.6], "range": [1774.5, 1461], "nice": false, "zero": false}},
                      "text": {"field": "at", "type": "nominal"}}},
        {"data": {"values": [{}]}, "mark": {"type": "text", "text": "%", "align": "left", "baseline": "top", "dx": 2, "dy": 2, "font": "Liberation Sans", "fontSize": 7, "color": "#444444"},
         "encoding": {"x": {"datum": 200, "type": "quantitative", "scale": {"domain": [200, 353], "range": [500.7, 932.3], "nice": false, "zero": false}},
                      "y": {"datum": 66.6, "type": "quantitative", "scale": {"domain": [-15.6, 66.6], "range": [1774.5, 1461], "nice": false, "zero": false}}}},
        {"data": {"values": [{}]}, "mark": {"type": "text", "text": "nm", "align": "right", "baseline": "bottom", "dx": -1, "dy": -2, "font": "Liberation Sans", "fontSize": 7, "color": "#444444"},
         "encoding": {"x": {"datum": 353, "type": "quantitative", "scale": {"domain": [200, 353], "range": [500.7, 932.3], "nice": false, "zero": false}},
                      "y": {"datum": -15.6, "type": "quantitative", "scale": {"domain": [-15.6, 66.6], "range": [1774.5, 1461], "nice": false, "zero": false}}}}
      ]
    }
  ]
}
